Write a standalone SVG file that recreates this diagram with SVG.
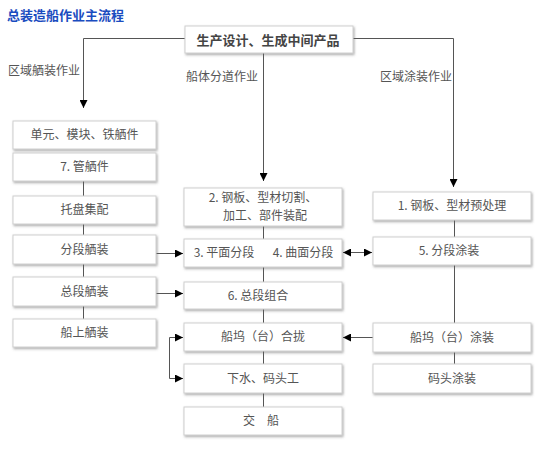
<svg xmlns="http://www.w3.org/2000/svg" width="543" height="458" viewBox="0 0 543 458">
<defs>
<filter id="sh" x="-10%" y="-20%" width="120%" height="150%">
<feDropShadow dx="1" dy="1.5" stdDeviation="1" flood-color="#666" flood-opacity="0.55"/>
</filter>
<marker id="ah" markerUnits="userSpaceOnUse" markerWidth="8" markerHeight="8" viewBox="0 0 7 7" refX="7" refY="3.5" orient="auto-start-reverse">
<path d="M0,0 L7,3.5 L0,7 z" fill="#000"/>
</marker>
<style>
.box{fill:#fff;stroke:#cfcfcf;stroke-width:1;filter:url(#sh)}
.t{font-family:"Noto Sans CJK SC","Liberation Sans",sans-serif;font-size:12px;fill:#555;text-anchor:middle;white-space:pre}
.lbl{font-family:"Noto Sans CJK SC","Liberation Sans",sans-serif;font-size:12px;fill:#555}
.ln{fill:none;stroke:#555;stroke-width:1}
.ar{fill:none;stroke:#555;stroke-width:1;marker-end:url(#ah)}
</style>
</defs>
<rect width="543" height="458" fill="#fff"/>
<text x="7" y="20" style="font-family:'Noto Sans CJK SC',sans-serif;font-size:13px;font-weight:bold;fill:#1a4cc0">总装造船作业主流程</text>

<g id="connectors">
<path class="ar" d="M185,38.5 H83.5 V108"/>
<path class="ar" d="M353,38.5 H453.5 V187"/>
<path class="ar" d="M263.5,53 V181"/>
<path class="ln" d="M83.5,181 V196 M83.5,224 V235 M83.5,264 V277 M83.5,306 V319"/>
<path class="ln" d="M263.5,226 V239 M263.5,267 V282 M263.5,309 V323 M263.5,351 V364 M263.5,393 V407"/>
<path class="ln" d="M454.5,220 V237 M454.5,265 V323 M454.5,352 V364"/>
<path class="ar" d="M156,253.5 H183"/>
<path class="ar" d="M156,293.5 H183"/>
<path class="ar" d="M343,252.5 H372" style="marker-start:url(#ah)"/>
<path class="ar" d="M373,337.5 H343"/>
<path class="ar" d="M169.5,358 V337.5 H183"/>
<path class="ar" d="M169.5,358 V378.5 H183"/>
</g>

<g id="top"><rect class="box" x="185" y="26" width="168" height="27"/><text x="268" y="44.5" class="t" style="font-size:13px;font-weight:bold;fill:#444">生产设计、生成中间产品</text></g>

<g id="labels">
<text class="lbl" x="8" y="75">区域舾装作业</text>
<text class="lbl" x="186" y="81">船体分道作业</text>
<text class="lbl" x="380" y="81">区域涂装作业</text>
</g>

<g id="L1"><rect class="box" x="13" y="121" width="143" height="28"/><text class="t" x="84.5" y="139">单元、模块、铁舾件</text></g>
<g id="L2"><rect class="box" x="13" y="153" width="143" height="28"/><text class="t" x="84.5" y="171">7. 管舾件</text></g>
<g id="L3"><rect class="box" x="13" y="196" width="143" height="28"/><text class="t" x="84.5" y="214">托盘集配</text></g>
<g id="L4"><rect class="box" x="13" y="235" width="143" height="29"/><text class="t" x="84.5" y="254">分段舾装</text></g>
<g id="L5"><rect class="box" x="13" y="277" width="143" height="29"/><text class="t" x="84.5" y="296">总段舾装</text></g>
<g id="L6"><rect class="box" x="13" y="319" width="143" height="28"/><text class="t" x="84.5" y="337">船上舾装</text></g>

<g id="M2"><rect class="box" x="184" y="188" width="158" height="38"/><text class="t" x="263" y="202">2. 钢板、型材切割、</text><text class="t" x="265" y="220">加工、部件装配</text></g>
<g id="M34"><rect class="box" x="184" y="239" width="158" height="28"/><text class="t" x="224" y="257">3. 平面分段</text><text class="t" x="303" y="257">4. 曲面分段</text></g>
<g id="M6"><rect class="box" x="184" y="282" width="158" height="27"/><text class="t" x="258" y="300">6. 总段组合</text></g>
<g id="M7"><rect class="box" x="184" y="323" width="158" height="28"/><text class="t" x="263" y="341">船坞（台）合拢</text></g>
<g id="M8"><rect class="box" x="184" y="364" width="158" height="29"/><text class="t" x="263" y="383">下水、码头工</text></g>
<g id="M9"><rect class="box" x="184" y="407" width="158" height="28"/><text class="t" x="261" y="425">交　船</text></g>

<g id="R1"><rect class="box" x="373" y="192" width="158" height="28"/><text class="t" x="452" y="210">1. 钢板、型材预处理</text></g>
<g id="R5"><rect class="box" x="373" y="237" width="158" height="28"/><text class="t" x="449" y="255">5. 分段涂装</text></g>
<g id="R6"><rect class="box" x="373" y="323" width="158" height="29"/><text class="t" x="452" y="342">船坞（台）涂装</text></g>
<g id="R7"><rect class="box" x="373" y="364" width="158" height="29"/><text class="t" x="452" y="383">码头涂装</text></g>
</svg>
